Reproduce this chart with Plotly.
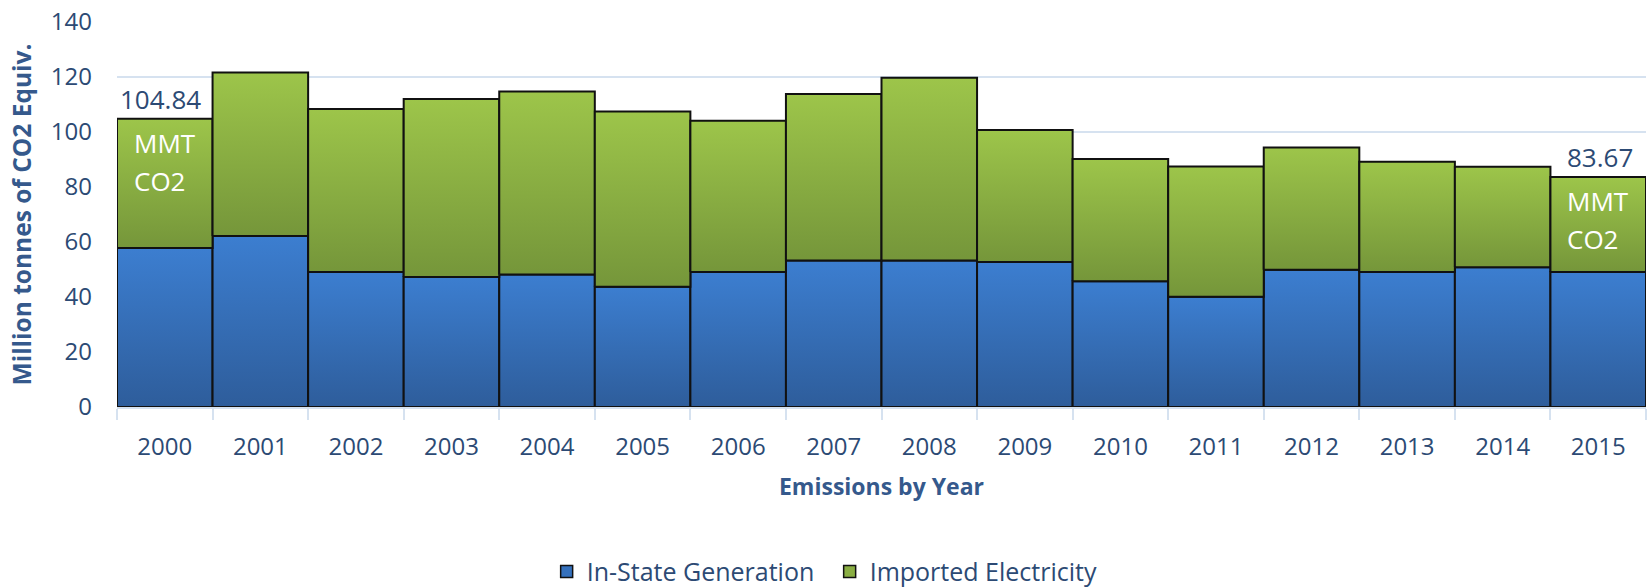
import plotly.graph_objects as go

years = ["2000", "2001", "2002", "2003", "2004", "2005", "2006", "2007",
         "2008", "2009", "2010", "2011", "2012", "2013", "2014", "2015"]
in_state = [57.8, 62.2, 49.1, 47.3, 48.2, 43.7, 49.1, 53.3,
            53.3, 52.7, 45.7, 40.1, 49.9, 49.1, 50.8, 49.1]
totals = [104.84, 121.6, 108.4, 112.0, 114.7, 107.5, 104.1, 113.8,
          119.7, 100.7, 90.2, 87.5, 94.4, 89.2, 87.4, 83.67]
imported = [round(t - s, 2) for t, s in zip(totals, in_state)]

TXT = "#2c4a74"
TITLE = "#35598c"
GRID = "#d6e2f0"
FONT = "Open Sans"
BLUE_TOP, BLUE_BOT, BLUE_MID = "#3c7ed0", "#2e5d9b", "#3571bd"
GREEN_TOP, GREEN_BOT, GREEN_MID = "#9dc54a", "#75963a", "#8aae43"

series = [
    ("In-State Generation", [0.0] * len(years), in_state, BLUE_BOT, BLUE_TOP, BLUE_MID),
    ("Imported Electricity", in_state, imported, GREEN_BOT, GREEN_TOP, GREEN_MID),
]

fig = go.Figure()
for name, bases, vals, cbot, ctop, cmid in series:
    for i, (b, v) in enumerate(zip(bases, vals)):
        top = b + v
        fig.add_trace(go.Scatter(
            x=[i - 0.5, i + 0.5, i + 0.5, i - 0.5, i - 0.5],
            y=[b, b, top, top, b],
            mode="lines", fill="toself",
            line=dict(color="#111111", width=2),
            fillgradient=dict(type="vertical", colorscale=[[0, cbot], [1, ctop]]),
            legendgroup=name, showlegend=False, hoverinfo="skip",
        ))
    # legend entry
    fig.add_trace(go.Bar(
        x=[None], y=[None], name=name, legendgroup=name,
        marker=dict(color=cmid, line=dict(color="#111111", width=1.5)),
    ))

# annotations for first and last year totals
first, last = 0, len(years) - 1
for idx in (first, last):
    fig.add_annotation(x=idx, y=totals[idx], text=f"{totals[idx]:.2f}",
                       showarrow=False, xanchor="left", yanchor="middle",
                       xshift=-47 if idx == first else -33, yshift=20,
                       font=dict(family=FONT, size=26, color=TXT))
    fig.add_annotation(x=idx, y=totals[idx], text="MMT",
                       showarrow=False, xanchor="left", yanchor="middle",
                       xshift=-33, yshift=-24,
                       font=dict(family=FONT, size=26, color="white"))
    fig.add_annotation(x=idx, y=totals[idx], text="CO2",
                       showarrow=False, xanchor="left", yanchor="middle",
                       xshift=-33, yshift=-62,
                       font=dict(family=FONT, size=26, color="white"))

fig.update_layout(
    width=1647, height=588,
    margin=dict(l=117, r=1, t=22, b=181, autoexpand=False),
    plot_bgcolor="white", paper_bgcolor="white",
    font=dict(family=FONT, size=24, color=TXT),
    legend=dict(orientation="h", x=0.281, xanchor="left", y=-0.428, yanchor="middle",
                font=dict(family=FONT, size=25, color=TXT), itemwidth=30,
                entrywidth=238, traceorder="normal"),
    showlegend=True,
)
fig.update_xaxes(
    range=[-0.5, len(years) - 0.5], showgrid=False, zeroline=False,
    tickmode="array", tickvals=list(range(len(years))), ticktext=years,
    showline=True, linecolor=GRID, linewidth=1.5,
    ticks="outside", ticklen=11, tickcolor="rgba(0,0,0,0)",
    minor=dict(ticks="outside", ticklen=11, tickcolor=GRID, tickwidth=1.5,
               tickmode="linear", tick0=-0.5, dtick=1, showgrid=False),
    ticklabelstandoff=6, tickangle=0,
    tickfont=dict(family=FONT, size=24, color=TXT),
    title=dict(text="<b>Emissions by Year</b>", standoff=18,
               font=dict(family=FONT, size=23, color=TITLE)),
)
fig.update_yaxes(
    range=[0, 140], dtick=20, showgrid=True, gridcolor=GRID, gridwidth=1.5,
    zeroline=False, ticks="", ticklabelstandoff=24,
    tickfont=dict(family=FONT, size=24, color=TXT),
    title=dict(text="<b>Million tonnes of CO2 Equiv.</b>", standoff=12,
               font=dict(family=FONT, size=24.5, color=TITLE)),
)

fig.write_html("out.html")
